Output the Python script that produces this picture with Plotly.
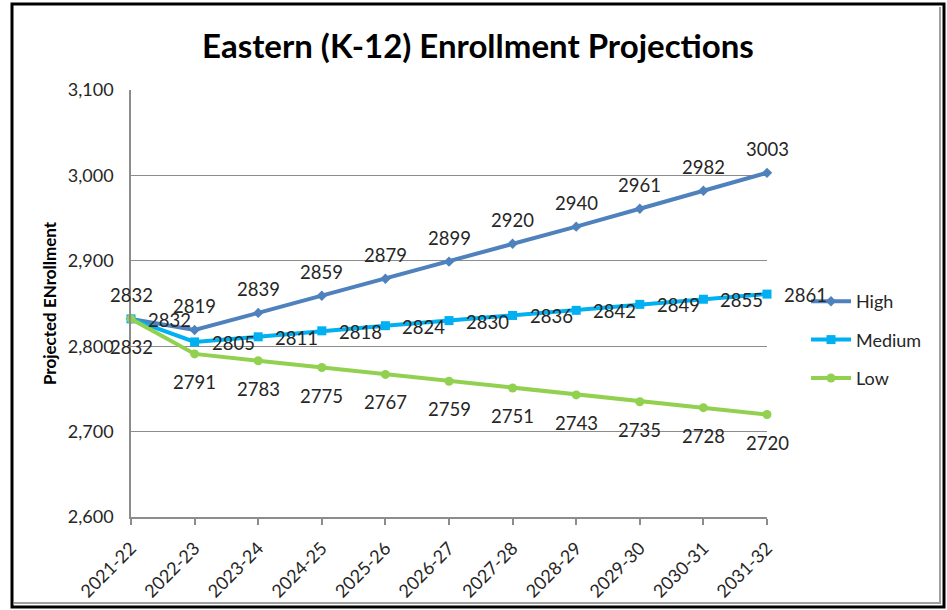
import plotly.graph_objects as go

years = ["2021-22", "2022-23", "2023-24", "2024-25", "2025-26", "2026-27",
         "2027-28", "2028-29", "2029-30", "2030-31", "2031-32"]
high = [2832, 2819, 2839, 2859, 2879, 2899, 2920, 2940, 2961, 2982, 3003]
medium = [2832, 2805, 2811, 2818, 2824, 2830, 2836, 2842, 2849, 2855, 2861]
low = [2832, 2791, 2783, 2775, 2767, 2759, 2751, 2743, 2735, 2728, 2720]

FONT = "Lato"
TXT = "#262626"
GRID = "#8c8c8c"

series = [
    ("High", high, "#4F81BD", "diamond", 8),
    ("Medium", medium, "#00B0F0", "square", 9),
    ("Low", low, "#92D050", "circle", 9),
]

fig = go.Figure()
for i, (name, vals, color, sym, ms) in enumerate(series):
    fig.add_trace(go.Scatter(
        x=years, y=vals, name=name, mode="lines+markers",
        line=dict(color=color, width=4),
        marker=dict(symbol=sym, size=ms, color=color),
        legendgroup=name, cliponaxis=False,
    ))

LBL = dict(family=FONT, size=18.5, color=TXT)
annotations = []
for x, v in zip(years, high):
    annotations.append(dict(x=x, y=v, text=str(v), showarrow=False, yshift=24, font=LBL))
for x, v in zip(years, medium):
    annotations.append(dict(x=x, y=v, text=str(v), showarrow=False, xshift=15, yshift=-1,
                            xanchor="left", font=LBL))
for x, v in zip(years, low):
    annotations.append(dict(x=x, y=v, text=str(v), showarrow=False, yshift=-28, font=LBL))

W0 = 636.0
H0 = 427.0
def px(x):
    return (x - 131) / W0
def py(y):
    return (517 - y) / H0

annotations.append(dict(text="<b>Eastern (K-12) Enrollment Projections</b>",
                        xref="paper", yref="paper", x=px(478), y=py(45),
                        xanchor="center", yanchor="middle", showarrow=False,
                        font=dict(family=FONT, size=33, color="#000000")))

shapes = [
    dict(type="rect", xref="paper", yref="paper",
         x0=px(12), x1=px(944), y0=py(607), y1=py(4),
         line=dict(color="#000000", width=3)),
    dict(type="line", xref="paper", yref="paper",
         x0=px(14), x1=px(941), y0=py(603), y1=py(603),
         line=dict(color="#a0a0a0", width=2)),
    dict(type="line", xref="paper", yref="paper",
         x0=px(940), x1=px(940), y0=py(603), y1=py(7),
         line=dict(color="#a0a0a0", width=2)),
]

fig.update_layout(
    width=947, height=610, autosize=False,
    margin=dict(l=131, r=180, t=90, b=93, pad=0, autoexpand=False),
    paper_bgcolor="white", plot_bgcolor="white",
    font=dict(family=FONT, color=TXT),
    showlegend=True,
    legend=dict(x=px(806), y=py(283), xanchor="left", yanchor="top",
                font=dict(family=FONT, size=18, color=TXT),
                itemwidth=40, tracegroupgap=12, bgcolor="rgba(0,0,0,0)"),
    annotations=annotations,
    shapes=shapes,
    xaxis=dict(type="category", range=[0, len(years) - 1], showgrid=False,
               automargin=False,
               showline=True, linecolor=GRID, linewidth=1.5,
               ticks="outside", ticklen=6, tickcolor=GRID, tickwidth=1.5,
               ticklabelstandoff=6,
               tickangle=-45, tickfont=dict(family=FONT, size=18, color=TXT)),
    yaxis=dict(range=[2600, 3100], dtick=100, tickformat=",",
               automargin=False,
               showgrid=True, gridcolor=GRID, gridwidth=1,
               showline=True, linecolor=GRID, linewidth=1.5, zeroline=False,
               ticks="", ticklabelstandoff=12,
               tickfont=dict(family=FONT, size=18, color=TXT),
               title=dict(text="<b>Projected ENrollment</b>", standoff=7,
                          font=dict(family=FONT, size=17, color="#000000"))),
)

fig.write_html("out.html", config={"displayModeBar": False},
               post_script="document.body.style.margin='0px';")
